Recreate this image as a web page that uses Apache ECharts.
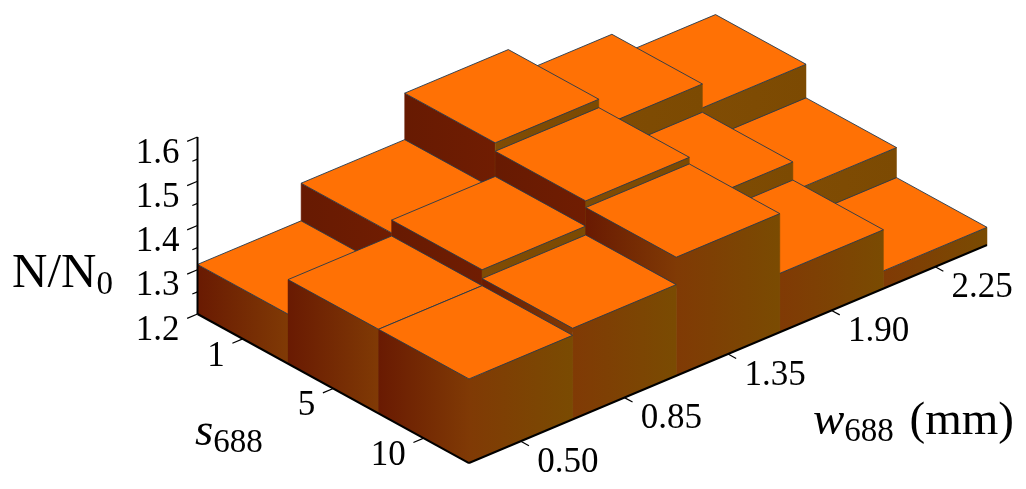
<!DOCTYPE html>
<html>
<head>
<meta charset="utf-8">
<style>
html, body { margin: 0; padding: 0; background: #fff; }
#main { width: 1026px; height: 489px; }
</style>
<script src="https://cdn.jsdelivr.net/npm/echarts@6/dist/echarts.min.js"></script>
</head>
<body>
<div id="main"></div>
<script>
var wLabels = ['0.50', '0.85', '1.35', '1.90', '2.25'];
var sLabels = ['1', '5', '10'];
var zTicks = [1.2, 1.25, 1.3, 1.35, 1.4, 1.45, 1.5, 1.55, 1.6];
var zMajor = ['1.2', '1.3', '1.4', '1.5', '1.6'];

// N/N0 for each w688 column
var ratioS1 = [1.312, 1.397, 1.502, 1.438, 1.384];
var ratioS5 = [1.390, 1.426, 1.483, 1.374, 1.308];
var ratioS10 = [1.390, 1.406, 1.468, 1.333, 1.240];
var ratios = [ratioS1, ratioS5, ratioS10];

var zMin = 1.2;
var SERIF = '"Liberation Serif", "Times New Roman", serif';

// the sheared floor: a step along s, and the drop per step along w
var sStep = [90.5, 49.67];
var wDrop = -43.6;

function project(api, w, s, z) {
    var p = api.coord([w, z]);
    return [p[0] + s * sStep[0], p[1] + s * sStep[1] + w * wDrop];
}

function hGrad(from, to) {
    return new echarts.graphic.LinearGradient(0, 0, 1, 0, [
        { offset: 0, color: from },
        { offset: 1, color: to }
    ]);
}

function renderBar(params, api) {
    var c = api.value(0), r = api.value(1), v = api.value(2);
    var a = project(api, c, r, v);
    var b = project(api, c, r + 1, v);
    var d = project(api, c + 1, r + 1, v);
    var e = project(api, c + 1, r, v);
    var b0 = project(api, c, r + 1, zMin);
    var d0 = project(api, c + 1, r + 1, zMin);
    var a0 = project(api, c, r, zMin);

    var leftFill = (c === 0 || r === 2) ? hGrad('#691a02', '#803a05') : hGrad('#671a02', '#701d02');
    var frontFill = r === 2 ? hGrad('#803a05', '#7a4b02') : hGrad('#804c04', '#7c4a02');

    return {
        type: 'group',
        children: [
            { type: 'polygon', shape: { points: [a, b, b0, a0] }, style: { fill: leftFill, stroke: leftFill, lineWidth: 0.5 } },
            { type: 'polygon', shape: { points: [b, d, d0, b0] }, style: { fill: frontFill, stroke: frontFill, lineWidth: 0.5 } },
            { type: 'polygon', shape: { points: [a, b, d, e] }, style: { fill: '#ff7105', stroke: '#24394d', lineWidth: 0.9 } }
        ]
    };
}

function line(p, q, width) {
    return {
        type: 'line',
        shape: { x1: p[0], y1: p[1], x2: q[0], y2: q[1] },
        style: { stroke: '#000', lineWidth: width }
    };
}

function label(text, x, y, align) {
    return {
        type: 'text',
        style: {
            text: text, x: x, y: y, align: align, verticalAlign: 'middle',
            fontFamily: SERIF, fontSize: 35, fill: '#000'
        }
    };
}

function renderFrame(params, api) {
    return {
        type: 'group',
        children: [
            line(project(api, 0, 0, 1.6), project(api, 0, 0, zMin), 2),
            line(project(api, 0, 0, zMin), project(api, 0, 3, zMin), 2),
            line(project(api, 0, 3, zMin), project(api, 5, 3, zMin), 2)
        ]
    };
}

function renderZTick(params, api) {
    var z = api.value(1);
    var p = project(api, 0, 0, z);
    var isMajor = params.dataIndex % 2 === 0;
    var len = isMajor ? 0.1 : 0.05;
    var q = project(api, -len, 0, z);
    var children = [line(p, q, 1.2)];
    if (isMajor) {
        children.push(label(zMajor[params.dataIndex / 2], p[0] - 18, p[1] + 16.5, 'right'));
    }
    return { type: 'group', children: children };
}

function renderSTick(params, api) {
    var r = api.value(1);
    var p = project(api, 0, r + 0.5, zMin);
    var q = project(api, -0.1, r + 0.5, zMin);
    return {
        type: 'group',
        children: [line(p, q, 1.2), label(sLabels[params.dataIndex], p[0] - 18, p[1] + 17.5, 'right')]
    };
}

function renderWTick(params, api) {
    var c = api.value(0);
    var p = project(api, c + 0.5, 3, zMin);
    var q = project(api, c + 0.5, 3.09, zMin);
    return {
        type: 'group',
        children: [line(p, q, 1.2), label(wLabels[params.dataIndex], p[0] + 47, p[1] + 21.5, 'center')]
    };
}

// back rows first, far columns first, so nearer bars paint over
var barData = [];
ratios.forEach(function (row, r) {
    for (var c = row.length - 1; c >= 0; c--) {
        barData.push([c, r, row[c]]);
    }
});

var titleRich = {
    big: { fontFamily: SERIF, fontSize: 49, fill: '#000' },
    main: { fontFamily: SERIF, fontSize: 47, fill: '#000', padding: [0, 0, 0, 4] },
    ital: { fontFamily: SERIF, fontSize: 47, fontStyle: 'italic', fill: '#000' },
    sub: { fontFamily: SERIF, fontSize: 33, fill: '#000', padding: [22, 0, 0, 0] }
};

function axisTitle(text, left, top) {
    return {
        type: 'text',
        left: left,
        top: top,
        silent: true,
        style: { text: text, rich: titleRich }
    };
}

var myChart = echarts.init(document.getElementById('main'), null, { renderer: 'canvas' });

myChart.setOption({
    animation: false,
    backgroundColor: '#fff',
    tooltip: { show: false },
    grid: { left: 197.5, top: 137, width: 518, height: 177 },
    xAxis: { type: 'value', min: 0, max: 5, show: false },
    yAxis: { type: 'value', min: 1.2, max: 1.6, show: false },
    graphic: [
        axisTitle('{big|N/N}{sub|0}', 12, 250),
        axisTitle('{ital|s}{sub|688}', 195, 409),
        axisTitle('{ital|w}{sub|688}{main| (mm)}', 813, 398)
    ],
    series: [
        { type: 'custom', silent: true, clip: false, data: barData, renderItem: renderBar, encode: { x: 0, y: 2 } },
        { type: 'custom', silent: true, clip: false, data: [[0, 1.2]], renderItem: renderFrame },
        { type: 'custom', silent: true, clip: false, data: zTicks.map(function (z) { return [0, z]; }), renderItem: renderZTick },
        { type: 'custom', silent: true, clip: false, data: sLabels.map(function (t, i) { return [0, i]; }), renderItem: renderSTick },
        { type: 'custom', silent: true, clip: false, data: wLabels.map(function (t, i) { return [i, 0]; }), renderItem: renderWTick }
    ]
});
</script>
</body>
</html>
